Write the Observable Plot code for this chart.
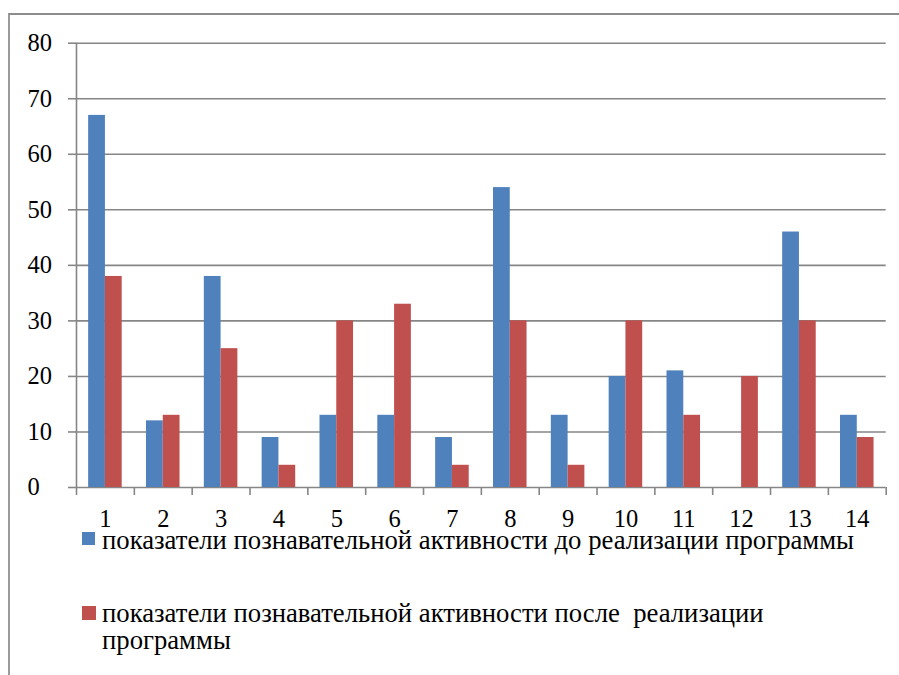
<!DOCTYPE html>
<html>
<head>
<meta charset="utf-8">
<script src="https://cdn.jsdelivr.net/npm/d3@7"></script>
<script src="https://cdn.jsdelivr.net/npm/@observablehq/plot@0.6"></script>
<style>
  html, body { margin: 0; padding: 0; background: #fff; }
</style>
</head>
<body>
<div id="wrap" style="position:relative;width:899px;height:675px;overflow:hidden;"></div>
<script>
const categories = [1, 2, 3, 4, 5, 6, 7, 8, 9, 10, 11, 12, 13, 14];
const beforeValues = [67, 12, 38, 9, 13, 13, 9, 54, 13, 20, 21, 0, 46, 13];
const afterValues = [38, 13, 25, 4, 30, 33, 4, 30, 4, 30, 13, 20, 30, 9];
const yTicks = [0, 10, 20, 30, 40, 50, 60, 70, 80];
const seriesNames = [
  "показатели познавательной активности до реализации программы",
  "показатели познавательной активности после\u00a0 реализации",
  "программы"
];
const colors = ["#4F81BD", "#C0504D"];

const before = categories.map((c, i) => ({c, v: beforeValues[i]}));
const after = categories.map((c, i) => ({c, v: afterValues[i]}));
const edges = categories.map(c => c - 0.5).concat([categories[categories.length - 1] + 0.5]);

const gridColor = "#868686";
const half = 0.29;
const serif = "'Liberation Serif'";

const wrap = document.getElementById("wrap");
wrap.style.fontFamily = serif;

function box(css) {
  const d = document.createElement("div");
  d.style.position = "absolute";
  Object.assign(d.style, css);
  wrap.appendChild(d);
  return d;
}

box({left: "8px", top: "13px", width: "900px", height: "700px", borderLeft: "2px solid #9a9a9a", borderTop: "2px solid #8c8c8c"});

const chart = Plot.plot({
  width: 899,
  height: 545,
  marginLeft: 76,
  marginRight: 13.3,
  marginTop: 42.7,
  marginBottom: 58,
  x: {domain: [0.5, 14.5], axis: null},
  y: {domain: [0, 80], axis: null},
  style: {fontFamily: serif, fontSize: "24px", color: "#000", background: "transparent"},
  marks: [
    Plot.gridY(yTicks, {stroke: gridColor, strokeOpacity: 1, strokeWidth: 1.6}),
    Plot.ruleX([0.5], {y1: 0, y2: 80, stroke: gridColor, strokeWidth: 1.6}),
    Plot.rect(before, {x1: d => d.c - half, x2: d => d.c, y1: () => 0, y2: "v", fill: colors[0]}),
    Plot.rect(after, {x1: d => d.c, x2: d => d.c + half, y1: () => 0, y2: "v", fill: colors[1]}),
    Plot.axisY(yTicks, {tickSize: 8, fill: "none", label: null, stroke: gridColor, strokeWidth: 1.6}),
    Plot.axisY(yTicks, {tickSize: 0, tickPadding: 49, textAnchor: "start", label: null, fill: "#000", fontSize: 24.5}),
    Plot.axisX(edges, {tickSize: 8, fill: "none", label: null, stroke: gridColor, strokeWidth: 1.6}),
    Plot.axisX(categories, {tickSize: 0, tickPadding: 22.5, label: null, fill: "#000", fontSize: 24.5})
  ]
});
chart.style.position = "absolute";
chart.style.left = "0px";
chart.style.top = "0px";
wrap.appendChild(chart);

// legend
box({left: "82px", top: "532px", width: "13px", height: "13px", background: colors[0]});
box({left: "82px", top: "606px", width: "14px", height: "14px", background: colors[1]});
const fs = 26.7, lh = 8;
const legStyle = {left: "102px", fontSize: fs + "px", lineHeight: lh + "px", whiteSpace: "nowrap", color: "#000", fontFamily: serif};
const bOff = (lh - 1.107 * fs) / 2 + 0.891 * fs;
box({...legStyle, top: (549 - bOff) + "px"}).textContent = seriesNames[0];
box({...legStyle, top: (622 - bOff) + "px"}).textContent = seriesNames[1];
box({...legStyle, top: (649 - bOff) + "px"}).textContent = seriesNames[2];
</script>
</body>
</html>
